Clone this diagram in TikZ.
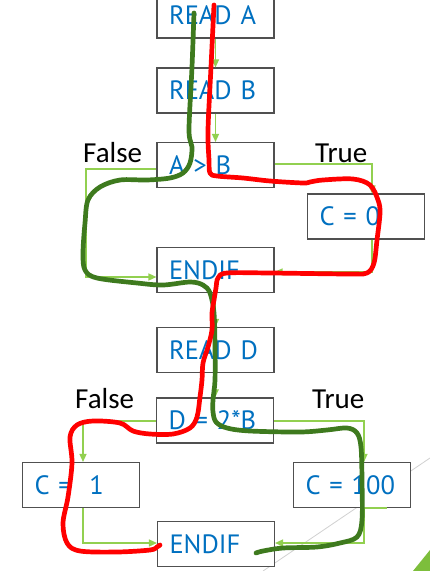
\documentclass[tikz,border=0pt]{standalone}
\usepackage{fontspec}
\setmainfont{PT Sans}
\newfontfamily\labfont{Carlito}
\usetikzlibrary{arrows.meta}
\definecolor{boxtxt}{HTML}{0070C0}
\definecolor{boxline}{HTML}{505050}
\definecolor{connc}{HTML}{92D050}
\definecolor{handgreen}{HTML}{3E7A1E}
\definecolor{handred}{HTML}{FF0000}
\definecolor{decogreen}{HTML}{7DBE3C}
\tikzset{
  stepbox/.style={draw=boxline, line width=1.1pt, fill=white, text=boxtxt,
    font=\fontsize{26.5}{28}\selectfont, text width=93pt, inner xsep=12pt,
    inner ysep=0pt, minimum height=45pt, align=left, text height=18pt, text depth=0pt},
  conn/.style={draw=connc, line width=1.4pt, -{Triangle[length=8pt,width=7pt]}},
  plainconn/.style={draw=connc, line width=1.4pt},
  lab/.style={font=\labfont\fontsize{29}{30}\selectfont, text=black, inner sep=0pt},
  hand/.style={line width=4.7pt, line cap=round, line join=round}
}
\begin{document}
\begin{tikzpicture}[x=1pt,y=-1pt]
\useasboundingbox (0,0) rectangle (430,571);
\clip (0,0) rectangle (430,571);
\fill[white] (0,0) rectangle (430,571);
% decoration
\draw[black!18, line width=0.8pt] (430,458) -- (263,571);
\fill[decogreen] (413,571) -- (430,550) -- (430,571) -- cycle;

% boxes
\node[stepbox] (ra)   at (215.5,15.5) {READ A};
\node[stepbox] (rb)   at (215.5,90.5) {READ B};
\node[stepbox] (ab)   at (215.5,165)  {A > B};
\node[stepbox] (c0)   at (366,216.5)  {C = 0};
\node[stepbox] (e1)   at (215.5,270)  {ENDIF};
\node[stepbox] (rd)   at (215.5,350)  {READ D};
\node[stepbox] (db)   at (215,420.5)  {D = 2*B};
\node[stepbox] (c1)   at (81,485)     {C = \ 1};
\node[stepbox] (c100) at (352,485)    {C = 100};
\node[stepbox] (e2)   at (216,544)    {ENDIF};

% labels
\node[lab, anchor=base west] (f1) at (83,162)  {False};
\node[lab, anchor=base west] (t1) at (315,162) {True};
\node[lab, anchor=base west] (f2) at (75,408)  {False};
\node[lab, anchor=base west] (t2) at (312,408) {True};

% connectors
\draw[conn] (ra) -- (rb);
\draw[conn] (rb) -- (ab);
\draw[conn] (ab.west |- 0,169) -| (86,277) -- (e1.west |- 0,277);
\draw[conn] (ab.east |- 0,164) -| ([xshift=6pt]c0.north);
\draw[conn] ([xshift=6pt]c0.south) |- (e1.east |- 0,272);
\draw[conn] (e1) -- (rd);
\draw[conn] (rd) -- (db);
\draw[conn] (db.west |- 0,421) -| ([xshift=2pt]c1.north);
\draw[conn] (db.east |- 0,421) -| ([xshift=12pt]c100.north);
\draw[conn] ([xshift=2pt]c1.south) |- (e2.west |- 0,543);
\draw[conn] ([xshift=12pt]c100.south) |- (e2.east |- 0,543);
\draw[plainconn] ([xshift=12pt]c100.south) -- ([xshift=35pt]c100.south);

% hand-drawn green trace
\draw[hand, handgreen] plot[smooth, tension=0.55] coordinates {
 (194,13) (192,67) (189,130) (192,147) (190,163) (183,173) (170,178) (147,180)
 (120,180) (100,187) (88,200) (85,223) (83,253) (85,270) (97,278) (137,283)
 (163,285) (190,282) (203,285) (210,293) (214,313) (215,347) (215,380) (213,400)
 (213,412) (216,422) (227,428) (250,431) (300,432) (327,430) (347,428) (357,433)
 (361,447) (362,480) (362,520) (357,537) (340,543) (317,547) (283,548) (263,551) (256,553)};

% hand-drawn red trace
\draw[hand, handred] plot[smooth, tension=0.55] coordinates {
 (214,5) (211,67) (208,130) (209,160) (210,173) (217,176) (243,178) (270,181)
 (303,183) (310,182) (323,180) (353,179) (370,185) (378,200) (380,213) (377,240)
 (374,263) (367,273) (350,274) (270,273) (227,273) (218,278) (216,288) (214,300)
 (212,313) (212,330) (208,347) (203,363) (202,380) (200,397) (197,417) (190,428)
 (173,434) (150,434) (133,431) (120,423) (93,421) (77,425) (70,437) (72,463)
 (68,497) (63,523) (67,543) (80,551) (117,552) (150,550) (157,547) (160,545)};
\end{tikzpicture}
\end{document}
